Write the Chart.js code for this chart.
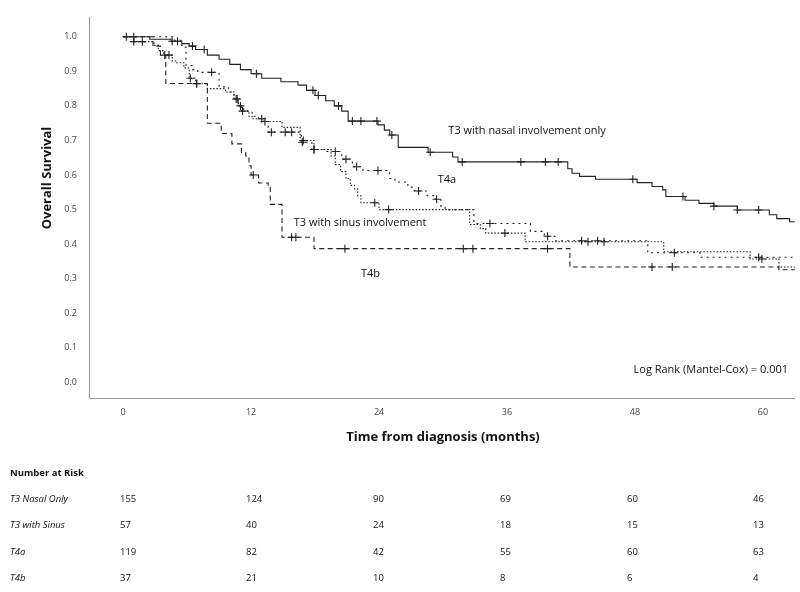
<!DOCTYPE html>
<html><head><meta charset="utf-8">
<script src="https://cdn.jsdelivr.net/npm/chart.js@4.4.0/dist/chart.umd.min.js"></script>
<style>html,body{margin:0;padding:0;background:#fff;}#wrap{position:relative;width:800px;height:592px;}</style>
</head><body><div id="wrap"><canvas id="c" width="800" height="592"></canvas></div>
<script>
// ---- Data (months, survival) ----
const nasalT = [0,2.5,4.5,5.5,6.2,6.8,7.9,9.0,10.0,11.0,12.0,13.0,14.8,16.4,17.2,18.0,19.0,19.8,20.5,21.1,23.9,24.5,25.0,25.8,28.6,30.9,31.4,41.7,42.1,42.8,44.3,48.2,49.6,50.6,50.9,52.7,54.0,55.4,57.6,60.6,61.3,62.5,63];
const nasalS = [1.0,0.993,0.987,0.98,0.973,0.963,0.947,0.935,0.92,0.905,0.893,0.88,0.87,0.86,0.845,0.83,0.815,0.80,0.785,0.756,0.745,0.73,0.716,0.68,0.666,0.652,0.638,0.618,0.605,0.596,0.588,0.578,0.567,0.557,0.538,0.527,0.518,0.51,0.499,0.485,0.474,0.465,0.465];
const nasalCens = [0.3,1.0,4.6,5.1,6.5,7.6,12.5,17.8,18.3,20.2,21.5,22.3,23.8,25.2,28.8,31.8,37.3,39.6,40.8,47.8,52.5,55.4,57.6,59.6];

const sinusT = [0,1.0,2.9,3.3,3.8,4.6,5.0,5.7,6.2,6.8,7.9,9.6,10.4,10.8,11.1,11.8,12.1,13.2,14.9,16.6,17.9,19.5,19.9,20.4,20.9,21.3,21.7,22.0,22.3,24.0,32.5,33.5,34.0,37.7,50.7,58.8,61.5,63];
const sinusS = [1.0,0.986,0.975,0.96,0.947,0.93,0.925,0.91,0.88,0.864,0.85,0.84,0.82,0.80,0.785,0.77,0.763,0.755,0.738,0.70,0.674,0.655,0.63,0.61,0.59,0.57,0.56,0.54,0.52,0.50,0.457,0.445,0.432,0.407,0.378,0.357,0.334,0.334];
const sinusCens = [1.0,1.8,3.9,4.3,6.3,6.9,10.7,11.2,13.0,13.3,16.9,17.9,23.6,24.9,35.8,43.6,45.1,59.9];

const t4aT = [0,4.8,5.5,5.9,6.5,7.0,9.0,9.9,10.4,10.8,11.3,12.1,12.7,13.6,16.7,17.7,19.0,20.5,21.5,22.5,25.0,25.5,26.7,27.3,28.5,29.3,29.8,30.2,32.9,38.2,39.5,40.5,49.2,54.1,63];
const t4aS = [1.0,0.99,0.97,0.917,0.905,0.897,0.855,0.84,0.82,0.80,0.785,0.77,0.755,0.724,0.695,0.674,0.668,0.646,0.624,0.613,0.59,0.58,0.565,0.554,0.54,0.53,0.51,0.50,0.46,0.437,0.423,0.41,0.375,0.362,0.362];
const t4aCens = [8.3,10.6,11.0,13.9,15.2,15.8,16.8,17.9,19.9,20.9,21.9,23.9,27.7,29.4,34.4,39.8,43.0,44.5,51.7,59.6];

const t4bT = [0,2.8,3.5,4.0,7.9,9.2,10.2,11.1,11.5,11.8,12.0,12.7,13.6,13.8,14.9,17.9,41.9,61.5,63];
const t4bS = [1.0,0.973,0.946,0.865,0.75,0.72,0.69,0.665,0.655,0.627,0.60,0.577,0.568,0.515,0.42,0.387,0.334,0.326,0.326];
const t4bCens = [6.9,12.2,15.8,16.2,20.8,31.9,32.8,39.8,49.6,51.5];

const xTicks = [0,12,24,36,48,60];
const riskGroups = ['T3 Nasal Only','T3 with Sinus','T4a','T4b'];
const riskNasal = [155,124,90,69,60,46];
const riskSinus = [57,40,24,18,15,13];
const riskT4a = [119,82,42,55,60,63];
const riskT4b = [37,21,10,8,6,4];
const curveLabels = [
  {text:'T3 with nasal involvement only', x:30.5, y:0.727},
  {text:'T4a', x:29.5, y:0.585},
  {text:'T3 with sinus involvement', x:16.0, y:0.463},
  {text:'T4b', x:22.3, y:0.313}
];
const logRankText = 'Log Rank (Mantel-Cox) = 0.001';

// ---- helpers ----
function pts(T,S){return T.map((t,i)=>({x:t,y:S[i]}));}
function survAt(T,S,t){let v=S[0];for(let i=0;i<T.length;i++){if(T[i]<=t)v=S[i];}return v;}
function cens(C,T,S){return C.map(t=>({x:t,y:survAt(T,S,t)}));}

const LC='#222';
function lineDs(T,S,dash){return {type:'line',data:pts(T,S),stepped:true,borderColor:LC,borderWidth:1.1,borderDash:dash,pointRadius:0,fill:false,order:2};}
function censDs(C,T,S){return {type:'scatter',data:cens(C,T,S),pointStyle:'cross',pointRadius:4,borderColor:LC,backgroundColor:LC,pointBorderWidth:1.1,showLine:false,order:1};}

const overlay = {
  id:'overlay',
  afterDraw(chart){
    const ctx=chart.ctx, xs=chart.scales.x, ys=chart.scales.y;
    ctx.save();
    ctx.fillStyle='#111';
    ctx.textBaseline='middle';
    ctx.font='11px "Open Sans"';
    ctx.textAlign='left';
    curveLabels.forEach(l=>{ctx.fillText(l.text, xs.getPixelForValue(l.x), ys.getPixelForValue(l.y));});
    ctx.textAlign='right';
    ctx.fillText(logRankText, 788, 370);
    // axis titles
    ctx.font='bold 13px "Open Sans"';
    ctx.textAlign='center';
    ctx.fillText('Time from diagnosis (months)', 443, 437);
    ctx.save();
    ctx.translate(47,178);
    ctx.rotate(-Math.PI/2);
    ctx.fillText('Overall Survival',0,0);
    ctx.restore();
    // risk table
    ctx.textAlign='left';
    ctx.font='bold 9.5px "Open Sans"';
    ctx.fillText('Number at Risk', 10, 473);
    const rows=[riskNasal,riskSinus,riskT4a,riskT4b];
    const rowY=[499,525,552,578];
    const colX=[120,246,373,500,627,753];
    rows.forEach((r,i)=>{
      ctx.font='italic 9.5px "Open Sans"';
      ctx.fillText(riskGroups[i],10,rowY[i]);
      ctx.font='9.5px "Open Sans"';
      r.forEach((v,j)=>ctx.fillText(String(v),colX[j],rowY[i]));
    });
    ctx.restore();
  }
};

new Chart(document.getElementById('c'),{
  type:'line',
  data:{datasets:[
    lineDs(nasalT,nasalS,[]),
    lineDs(sinusT,sinusS,[1.5,1.8]),
    lineDs(t4aT,t4aS,[2,4]),
    lineDs(t4bT,t4bS,[5,3.5]),
    censDs(nasalCens,nasalT,nasalS),
    censDs(sinusCens,sinusT,sinusS),
    censDs(t4aCens,t4aT,t4aS),
    censDs(t4bCens,t4bT,t4bS)
  ]},
  options:{
    responsive:false,animation:false,
    layout:{padding:{top:3,right:3,left:0,bottom:0}},
    plugins:{legend:{display:false},tooltip:{enabled:false}},
    scales:{
      x:{type:'linear',min:-3.2,max:63,
        afterBuildTicks(s){s.ticks=xTicks.map(v=>({value:v}));},
        afterFit(s){s.height=194;},
        grid:{display:false,drawTicks:false},
        border:{display:true,color:'#999',width:1},
        ticks:{padding:9,color:'#444',font:{family:'Open Sans',size:9},callback:v=>String(v)}},
      y:{type:'linear',min:-0.045,max:1.056,
        afterBuildTicks(s){const t=[];for(let i=0;i<=10;i++)t.push({value:i/10});s.ticks=t;},
        afterFit(s){s.width=89;},
        grid:{display:false,drawTicks:false},
        border:{display:true,color:'#999',width:1},
        ticks:{padding:12,color:'#444',font:{family:'Open Sans',size:9},callback:v=>Number(v).toFixed(1)}}
    }
  },
  plugins:[overlay]
});
</script></body></html>
